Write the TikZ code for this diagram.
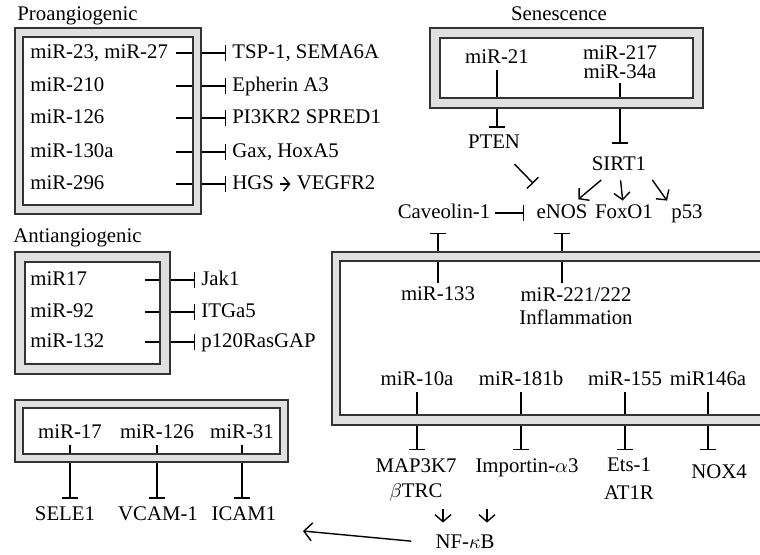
\documentclass[tikz,border=0pt]{standalone}
\usepackage{fontspec}
\setmainfont{Liberation Serif}
\usetikzlibrary{arrows.meta,positioning}
\begin{document}
\begin{tikzpicture}[x=0.5pt, y=-0.5pt, every node/.style={font=\fontsize{10.4}{12.5}\selectfont}]
        \tikzstyle{lbl} = [inner sep=2pt, text height=1.5ex, text depth=.25ex]
        \tikzstyle{mir} = [lbl, anchor=west]
        \tikzstyle{tgt} = [lbl, anchor=west, inner sep=3pt]
        \tikzstyle{stack} = [inner sep=2pt, align=center]
        \tikzstyle{frame} = [draw=black!80, fill=black!12, line width=0.9pt, even odd rule]
        \tikzstyle{inh} = [line width=0.7pt, -{Bar[width=8pt]}]
        \tikzstyle{act} = [line width=0.7pt, -{Straight Barb[length=3.5pt,width=8pt]}]

        \useasboundingbox (0,0) rectangle (760,554);

        % proangiogenic
        \node [lbl, anchor=west] (pro) at (13,15) {Proangiogenic};
        \node [mir] (p1) at (26,53)  {miR-23, miR-27};
        \node [mir] (p2) at (26,86)  {miR-210};
        \node [mir] (p3) at (26,118) {miR-126};
        \node [mir] (p4) at (26,152) {miR-130a};
        \node [mir] (p5) at (26,184) {miR-296};
        \node [tgt] (tsp) at (226,53)  {TSP-1, SEMA6A};
        \node [tgt] (eph) at (226,86)  {Epherin A3};
        \node [tgt] (pi3) at (226,118) {PI3KR2 SPRED1};
        \node [tgt] (gax) at (226,152) {Gax, HoxA5};
        \node [tgt] (hgs) at (226,184) {HGS};
        \node [tgt, right=5pt of hgs] (vegf) {VEGFR2};
        \coordinate (pa-in) at (176,0);

        \draw [inh] (p1 -| pa-in) -- (tsp);
        \draw [inh] (p2 -| pa-in) -- (eph);
        \draw [inh] (p3 -| pa-in) -- (pi3);
        \draw [inh] (p4 -| pa-in) -- (gax);
        \draw [inh] (p5 -| pa-in) -- (hgs);
        \draw [act, -{Straight Barb[length=3pt,width=7pt]}] (hgs) -- (vegf);

        % antiangiogenic
        \node [lbl, anchor=west] (anti) at (9,237) {Antiangiogenic};
        \node [mir] (a1) at (26,280) {miR17};
        \node [mir] (a2) at (26,312) {miR-92};
        \node [mir] (a3) at (26,342) {miR-132};
        \node [tgt] (jak) at (195,280) {Jak1};
        \node [tgt] (itg) at (195,312) {ITGa5};
        \node [tgt] (ras) at (195,342) {p120RasGAP};
        \coordinate (aa-in) at (145,0);

        \draw [inh] (a1 -| aa-in) -- (jak);
        \draw [inh] (a2 -| aa-in) -- (itg);
        \draw [inh] (a3 -| aa-in) -- (ras);

        % senescence
        \node [lbl]   (sen)  at (559,15) {Senescence};
        \node [lbl]   (m21)  at (497,58) {miR-21};
        \node [stack] (m217) at (620,62) {miR-217\\[-3pt]miR-34a};
        \node [lbl]   (pten) at (494,143) {PTEN};
        \node [lbl]   (sirt) at (619,165) {SIRT1};
        \node [lbl]   (cav)  at (444,213) {Caveolin-1};
        \node [lbl]   (enos) at (562,213) {eNOS};
        \node [lbl]   (foxo) at (624,213) {FoxO1};
        \node [lbl]   (p53)  at (687,213) {p53};

        \draw [inh, shorten >=1.5pt] (m21.south) -- (m21.south |- pten.north);
        \draw [inh, shorten >=4.5pt] (m217.south) -- (m217.south |- sirt.north);
        \draw [inh, shorten <=6pt, shorten >=12pt] (pten) -- (enos);
        \draw [act, shorten <=2pt, shorten >=1pt] (sirt) -- (enos);
        \draw [act, shorten <=1.5pt] (sirt) -- (foxo);
        \draw [act, shorten <=1.5pt] (sirt.south east) -- (p53.north west);
        \draw [inh, shorten >=4pt] (cav) -- (enos);

        % endothelium
        \node [lbl]   (m133) at (438,295) {miR-133};
        \node [stack] (m221) at (576,306) {miR-221/222\\[-1pt]Inflammation};
        \draw [inh, shorten >=3.8pt] (m133.north) -- (m133.north |- cav.south);
        \draw [inh, shorten >=3.8pt] (m221.north -| enos) -- (enos.south);

        \node [lbl]   (m10a) at (417,380) {miR-10a};
        \node [lbl]   (m181) at (521,380) {miR-181b};
        \node [lbl]   (m155) at (625,380) {miR-155};
        \node [lbl]   (m146) at (708,380) {miR146a};
        \node [stack] (map)  at (416,480) {MAP3K7\\$\beta$TRC};
        \node [lbl]   (imp)  at (527,467) {Importin-$\alpha$3};
        \node [stack] (ets)  at (629,479) {Ets-1\\[1.5pt]AT1R};
        \node [lbl]   (nox)  at (719,473) {NOX4};
        \coordinate (bar-y) at (0,450);

        \draw [inh] (m10a.south) -- (m10a.south |- bar-y);
        \draw [inh] (m181.south) -- (m181.south |- bar-y);
        \draw [inh] (m155.south) -- (m155.south |- bar-y);
        \draw [inh] (m146.south) -- (m146.south |- bar-y);

        \node [lbl] (nfkb) at (465,543) {NF-$\kappa$B};
        \draw [act] ([xshift=-11pt,yshift=11pt]nfkb.north) -- ([xshift=-11pt,yshift=4pt]nfkb.north);
        \draw [act] ([xshift=11pt,yshift=11pt]nfkb.north) -- ([xshift=11pt,yshift=4pt]nfkb.north);

        % adhesion
        \node [lbl] (b17)  at (70,433)  {miR-17};
        \node [lbl] (b126) at (157,433) {miR-126};
        \node [lbl] (b31)  at (242,433) {miR-31};
        \node [lbl] (sele) at (65,515)  {SELE1};
        \node [lbl] (vcam) at (158,515) {VCAM-1};
        \node [lbl] (icam) at (244,515) {ICAM1};
        \coordinate (ec-end) at (303,531);

        \draw [inh, shorten >=2pt] (b17.south) -- (b17.south |- sele.north);
        \draw [inh, shorten >=2pt] (b126.south) -- (b126.south |- vcam.north);
        \draw [inh, shorten >=2pt] (b31.south) -- (b31.south |- icam.north);
        \draw [act, -{Straight Barb[length=4pt,width=9pt]}, shorten <=10pt] (nfkb.west) -- (ec-end);

        % frames
        \draw [frame] (15,28) rectangle (201,214) (23,37) rectangle (193,205);
        \draw [frame] (15,252) rectangle (170,374) (25,262) rectangle (160,364);
        \draw [frame] (430,28) rectangle (703,108) (440,38) rectangle (693,98);
        \draw [frame] (332,252) rectangle (775,425) (340,261) rectangle (767,415);
        \draw [frame] (15,400) rectangle (288,462) (23,408) rectangle (280,454);
\end{tikzpicture}
\end{document}
